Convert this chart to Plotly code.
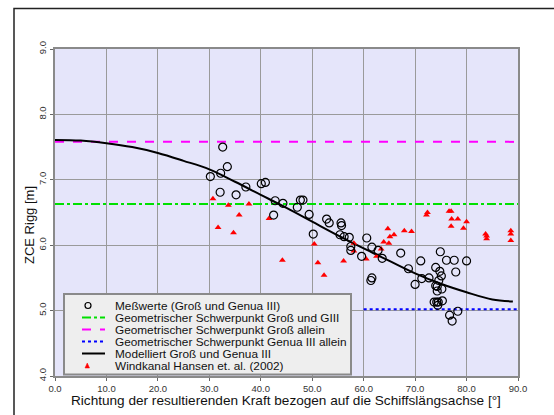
import plotly.graph_objects as go

# ---------------- data ----------------
mess_x = [30.2, 32.6, 32.2, 33.5, 32.1, 35.2, 37.1, 40.1, 40.9, 42.8, 44.3, 42.5, 47.1, 47.7, 48.2,
          49.4, 50.2, 52.8, 53.3, 55.6, 55.7, 55.4, 56.2, 57.2, 57.5, 57.5, 59.6, 60.6, 61.6, 62.8,
          63.6, 61.6, 61.4, 67.2, 68.7, 70.0, 71.1, 71.3, 72.7, 74.9, 76.1, 77.6, 80.0, 77.9, 74.0,
          74.8, 75.1, 74.6, 74.0, 74.3, 75.2, 74.3, 73.7, 74.2, 74.5, 75.3, 74.4, 78.3, 76.7, 77.2]
mess_y = [7.05, 7.50, 7.10, 7.20, 6.81, 6.77, 6.89, 6.94, 6.96, 6.68, 6.64, 6.46, 6.58, 6.69, 6.69,
          6.47, 6.17, 6.40, 6.34, 6.34, 6.30, 6.16, 6.13, 6.12, 5.98, 5.92, 5.83, 6.11, 5.97, 5.92,
          5.80, 5.50, 5.46, 5.88, 5.64, 5.40, 5.76, 5.49, 5.50, 5.90, 5.77, 5.77, 5.76, 5.59, 5.66,
          5.60, 5.53, 5.46, 5.38, 5.37, 5.33, 5.30, 5.13, 5.13, 5.13, 5.15, 5.08, 4.99, 4.93, 4.84]

wk_x = [30.7, 33.7, 37.7, 35.8, 31.7, 34.7, 41.6, 44.2, 50.4, 51.1, 52.3, 56.1, 58.1, 58.1, 60.5,
        62.5, 63.4, 63.9, 64.9, 65.1, 65.9, 64.7, 67.9, 69.3, 72.4, 72.2, 76.6, 77.0, 77.1, 78.3,
        80.0, 77.0, 79.4, 83.7, 83.9, 83.9, 88.6, 88.6, 88.6]
wk_y = [6.71, 6.61, 6.63, 6.46, 6.27, 6.19, 6.41, 5.77, 6.02, 5.73, 5.54, 5.76, 6.03, 5.91, 5.79,
        5.83, 5.94, 6.05, 6.03, 6.13, 6.16, 6.25, 6.22, 6.21, 6.50, 6.46, 6.52, 6.52, 6.40, 6.40,
        6.36, 6.29, 6.26, 6.17, 6.14, 6.10, 6.22, 6.17, 6.07]

model_x = [0, 5, 10, 15, 20, 25, 30, 35, 40, 45, 50, 55, 60, 65, 70, 75, 80, 85, 89]
model_y = [7.61, 7.60, 7.56, 7.50, 7.41, 7.29, 7.16, 6.97, 6.77, 6.57, 6.36, 6.15, 5.95, 5.76,
           5.57, 5.41, 5.28, 5.17, 5.14]

gross_giii_x = [0, 90]
gross_giii_y = [6.63, 6.63]
gross_x = [0, 90]
gross_y = [7.58, 7.58]
genua_x = [60, 90]
genua_y = [5.02, 5.02]

legend_labels = ["Meßwerte (Groß und Genua III)",
                 "Geometrischer Schwerpunkt Groß und GIII",
                 "Geometrischer Schwerpunkt Groß allein",
                 "Geometrischer Schwerpunkt Genua III allein",
                 "Modelliert Groß und Genua III",
                 "Windkanal Hansen et. al. (2002)"]

x_ticks = [0, 10, 20, 30, 40, 50, 60, 70, 80, 90]
y_ticks = [4, 5, 6, 7, 8, 9]

FONT = "Liberation Sans, Arial, sans-serif"

fig = go.Figure()
fig.add_trace(go.Scatter(x=gross_giii_x, y=gross_giii_y, mode="lines",
                         line=dict(color="#00e000", width=2, dash="dashdot"), name=legend_labels[1]))
fig.add_trace(go.Scatter(x=gross_x, y=gross_y, mode="lines",
                         line=dict(color="#ff00ff", width=2, dash="dash"), name=legend_labels[2]))
fig.add_trace(go.Scatter(x=genua_x, y=genua_y, mode="lines",
                         line=dict(color="#0000ff", width=2, dash="dot"), name=legend_labels[3]))
fig.add_trace(go.Scatter(x=model_x, y=model_y, mode="lines", line_shape="spline",
                         line=dict(color="black", width=2), name=legend_labels[4]))
fig.add_trace(go.Scatter(x=wk_x, y=wk_y, mode="markers",
                         marker=dict(symbol="triangle-up", size=6, color="#ff0000"), name=legend_labels[5]))
fig.add_trace(go.Scatter(x=mess_x, y=mess_y, mode="markers",
                         marker=dict(symbol="circle-open", size=8, color="black", line=dict(width=1.2)),
                         name=legend_labels[0]))

# body margin is removed below, so screenshot pixels == figure pixels
L, R, T, B = 55, 518, 49, 376
W, H = 554, 415


def px(xp):
    return (xp - L) / (R - L)


def py(yp):
    return (B - yp) / (B - T)


shapes = []
annotations = []
# outer frame: only the left and top edges are visible in the picture
shapes.append(dict(type="path", xref="paper", yref="paper",
                   path=f"M {px(14)},{py(420)} L {px(14)},{py(8.5)} L {px(560)},{py(8.5)}",
                   line=dict(color="#222222", width=1.5), layer="above"))
# legend box
shapes.append(dict(type="rect", xref="paper", yref="paper", x0=px(64), x1=px(351), y0=py(374.5), y1=py(294),
                   line=dict(color="#8a8a8a", width=2), fillcolor="#eeeeee", layer="above"))
rows = [305.5, 317.5, 329.5, 341.5, 353.5, 365.5]
# symbol samples
shapes.append(dict(type="circle", xref="paper", yref="paper", x0=px(85), x1=px(91), y0=py(rows[0] + 3),
                   y1=py(rows[0] - 3), line=dict(color="black", width=1.2), fillcolor="rgba(0,0,0,0)", layer="above"))
line_styles = [("#00e000", "dashdot"), ("#ff00ff", "dash"), ("#0000ff", "dot"), ("black", "solid")]
for i, (c, d) in enumerate(line_styles):
    shapes.append(dict(type="line", xref="paper", yref="paper", x0=px(82), x1=px(105), y0=py(rows[i + 1]),
                       y1=py(rows[i + 1]), line=dict(color=c, width=2, dash=d), layer="above"))
ty = rows[5]
shapes.append(dict(type="path", xref="paper", yref="paper",
                   path=f"M {px(85)},{py(ty + 2.5)} L {px(89.5)},{py(ty + 2.5)} L {px(87.25)},{py(ty - 2.5)} Z",
                   fillcolor="#ff0000", line=dict(color="#ff0000", width=0.5), layer="above"))
for i, lab in enumerate(legend_labels):
    annotations.append(dict(x=px(113), y=py(rows[i]), xref="paper", yref="paper", text=lab, showarrow=False,
                            xanchor="left", yanchor="middle", font=dict(family=FONT, size=11.8, color="#111111")))
# axis titles
annotations.append(dict(x=px(30), y=py(225), xref="paper", yref="paper", text="ZCE Rigg [m]", showarrow=False,
                        textangle=-90, xanchor="center", yanchor="middle",
                        font=dict(family=FONT, size=13, color="#111111")))
annotations.append(dict(x=px(286), y=py(400), xref="paper", yref="paper",
                        text="Richtung der resultierenden Kraft bezogen auf die Schiffslängsachse [°]",
                        showarrow=False, xanchor="center", yanchor="middle",
                        font=dict(family=FONT, size=13.6, color="#111111")))

axis_common = dict(showgrid=True, gridcolor="#9a9a9a", gridwidth=1, zeroline=False,
                   showline=True, linecolor="#8a8a8a", linewidth=1.5, mirror=True,
                   ticks="outside", ticklen=3, tickcolor="#666666", tickformat=".1f",
                   tickfont=dict(family=FONT, size=9.5, color="#333333"))

fig.update_layout(
    width=W, height=H,
    margin=dict(l=L, r=W - R, t=T, b=H - B),
    paper_bgcolor="white", plot_bgcolor="#e5e5fa",
    showlegend=False,
    xaxis=dict(range=[0, 90], tickvals=x_ticks, **axis_common),
    yaxis=dict(range=[4, 9], tickvals=y_ticks, tickangle=-90, **axis_common),
    shapes=shapes, annotations=annotations,
)

fig.write_html("out.html", config={"displayModeBar": False},
               post_script="document.body.style.margin='0';document.body.style.overflow='hidden';")
